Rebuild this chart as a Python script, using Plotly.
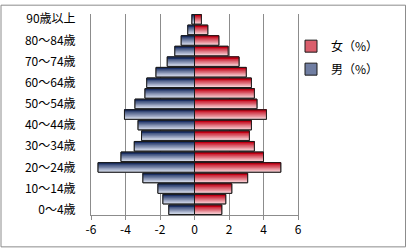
import plotly.graph_objects as go

ages = ["0～4歳", "5～9歳", "10～14歳", "15～19歳", "20～24歳", "25～29歳", "30～34歳",
        "35～39歳", "40～44歳", "45～49歳", "50～54歳", "55～59歳", "60～64歳", "65～69歳",
        "70～74歳", "75～79歳", "80～84歳", "85～89歳", "90歳以上"]
male = [1.49, 1.83, 2.12, 2.99, 5.59, 4.26, 3.49, 3.07, 3.27, 4.06, 3.45, 2.87, 2.77,
        2.23, 1.58, 1.14, 0.77, 0.39, 0.15]
female = [1.58, 1.81, 2.16, 3.08, 5.00, 4.00, 3.47, 3.18, 3.30, 4.17, 3.62, 3.47, 3.30,
          3.00, 2.58, 1.95, 1.41, 0.77, 0.40]
x_ticks = [-6, -4, -2, 0, 2, 4, 6]

male_neg = [-v for v in male]

W = 0.9
N = 8

def lerp(c1, c2, t):
    return "rgb(%d,%d,%d)" % tuple(round(a + (b - a) * t) for a, b in zip(c1, c2))

series = [
    ("女（%）", female, (192, 0, 20), (250, 210, 215), "f"),
    ("男（%）", male_neg, (28, 48, 100), (215, 222, 238), "m"),
]

fig = go.Figure()
for name, vals, dark, light, grp in series:
    fig.add_trace(go.Bar(y=ages, x=vals, orientation="h", name=name, width=W,
                         legendgroup=grp,
                         marker=dict(color=lerp(dark, light, 0.45),
                                     line=dict(color="#1a1a1a", width=1)),
                         showlegend=True, hoverinfo="skip"))
for name, vals, dark, light, grp in series:
    for k in range(N):
        h = W * (N - k) / N
        t = k / (N - 1)
        fig.add_trace(go.Bar(y=ages, x=vals, orientation="h", width=h,
                             offset=W / 2 - h, legendgroup=grp,
                             marker=dict(color=lerp(light, dark, t), line=dict(width=0)),
                             showlegend=False, hoverinfo="skip"))
for name, vals, dark, light, grp in series:
    fig.add_trace(go.Bar(y=ages, x=vals, orientation="h", width=W, legendgroup=grp,
                         marker=dict(color="rgba(0,0,0,0)",
                                     line=dict(color="#1a1a1a", width=1)),
                         showlegend=False, hoverinfo="skip"))

L, R, T, B = 91, 109, 10, 34
PW, PH = 407 - L - R, 249 - T - B

fig.update_layout(
    width=407, height=249,
    margin=dict(l=L, r=R, t=T, b=B),
    barmode="overlay",
    paper_bgcolor="white", plot_bgcolor="white",
    font=dict(family="Noto Sans CJK JP", size=12, color="black"),
    showlegend=True,
    legend=dict(x=(291 - L) / PW, y=1 - (28 - T) / PH, xanchor="left", yanchor="top",
                font=dict(size=12), bgcolor="rgba(0,0,0,0)", itemwidth=30,
                tracegroupgap=4),
    xaxis=dict(range=[-6, 6], tickvals=x_ticks, ticktext=[str(v) for v in x_ticks],
               showgrid=True, gridcolor="#8c8c8c", gridwidth=1,
               zeroline=True, zerolinecolor="#8c8c8c", zerolinewidth=1,
               showline=True, linecolor="#8c8c8c", linewidth=1,
               ticks="outside", ticklen=4, tickcolor="#8c8c8c",
               tickfont=dict(size=12), fixedrange=True),
    yaxis=dict(categoryorder="array", categoryarray=ages, range=[-0.5, len(ages) - 0.5],
               tickvals=ages[::2], ticktext=ages[::2], showgrid=False,
               showline=True, mirror=True, linecolor="#8c8c8c", linewidth=1,
               ticks="", ticklabelstandoff=12, tickfont=dict(size=12)),
    shapes=[dict(type="rect", xref="paper", yref="paper",
                 x0=(1 - L) / PW, x1=(405.5 - L) / PW,
                 y0=(249 - B - 247.5) / PH, y1=(249 - B - 1) / PH,
                 line=dict(color="#8c8c8c", width=1), fillcolor="rgba(0,0,0,0)",
                 layer="below")],
)

fig.write_html("out.html")
